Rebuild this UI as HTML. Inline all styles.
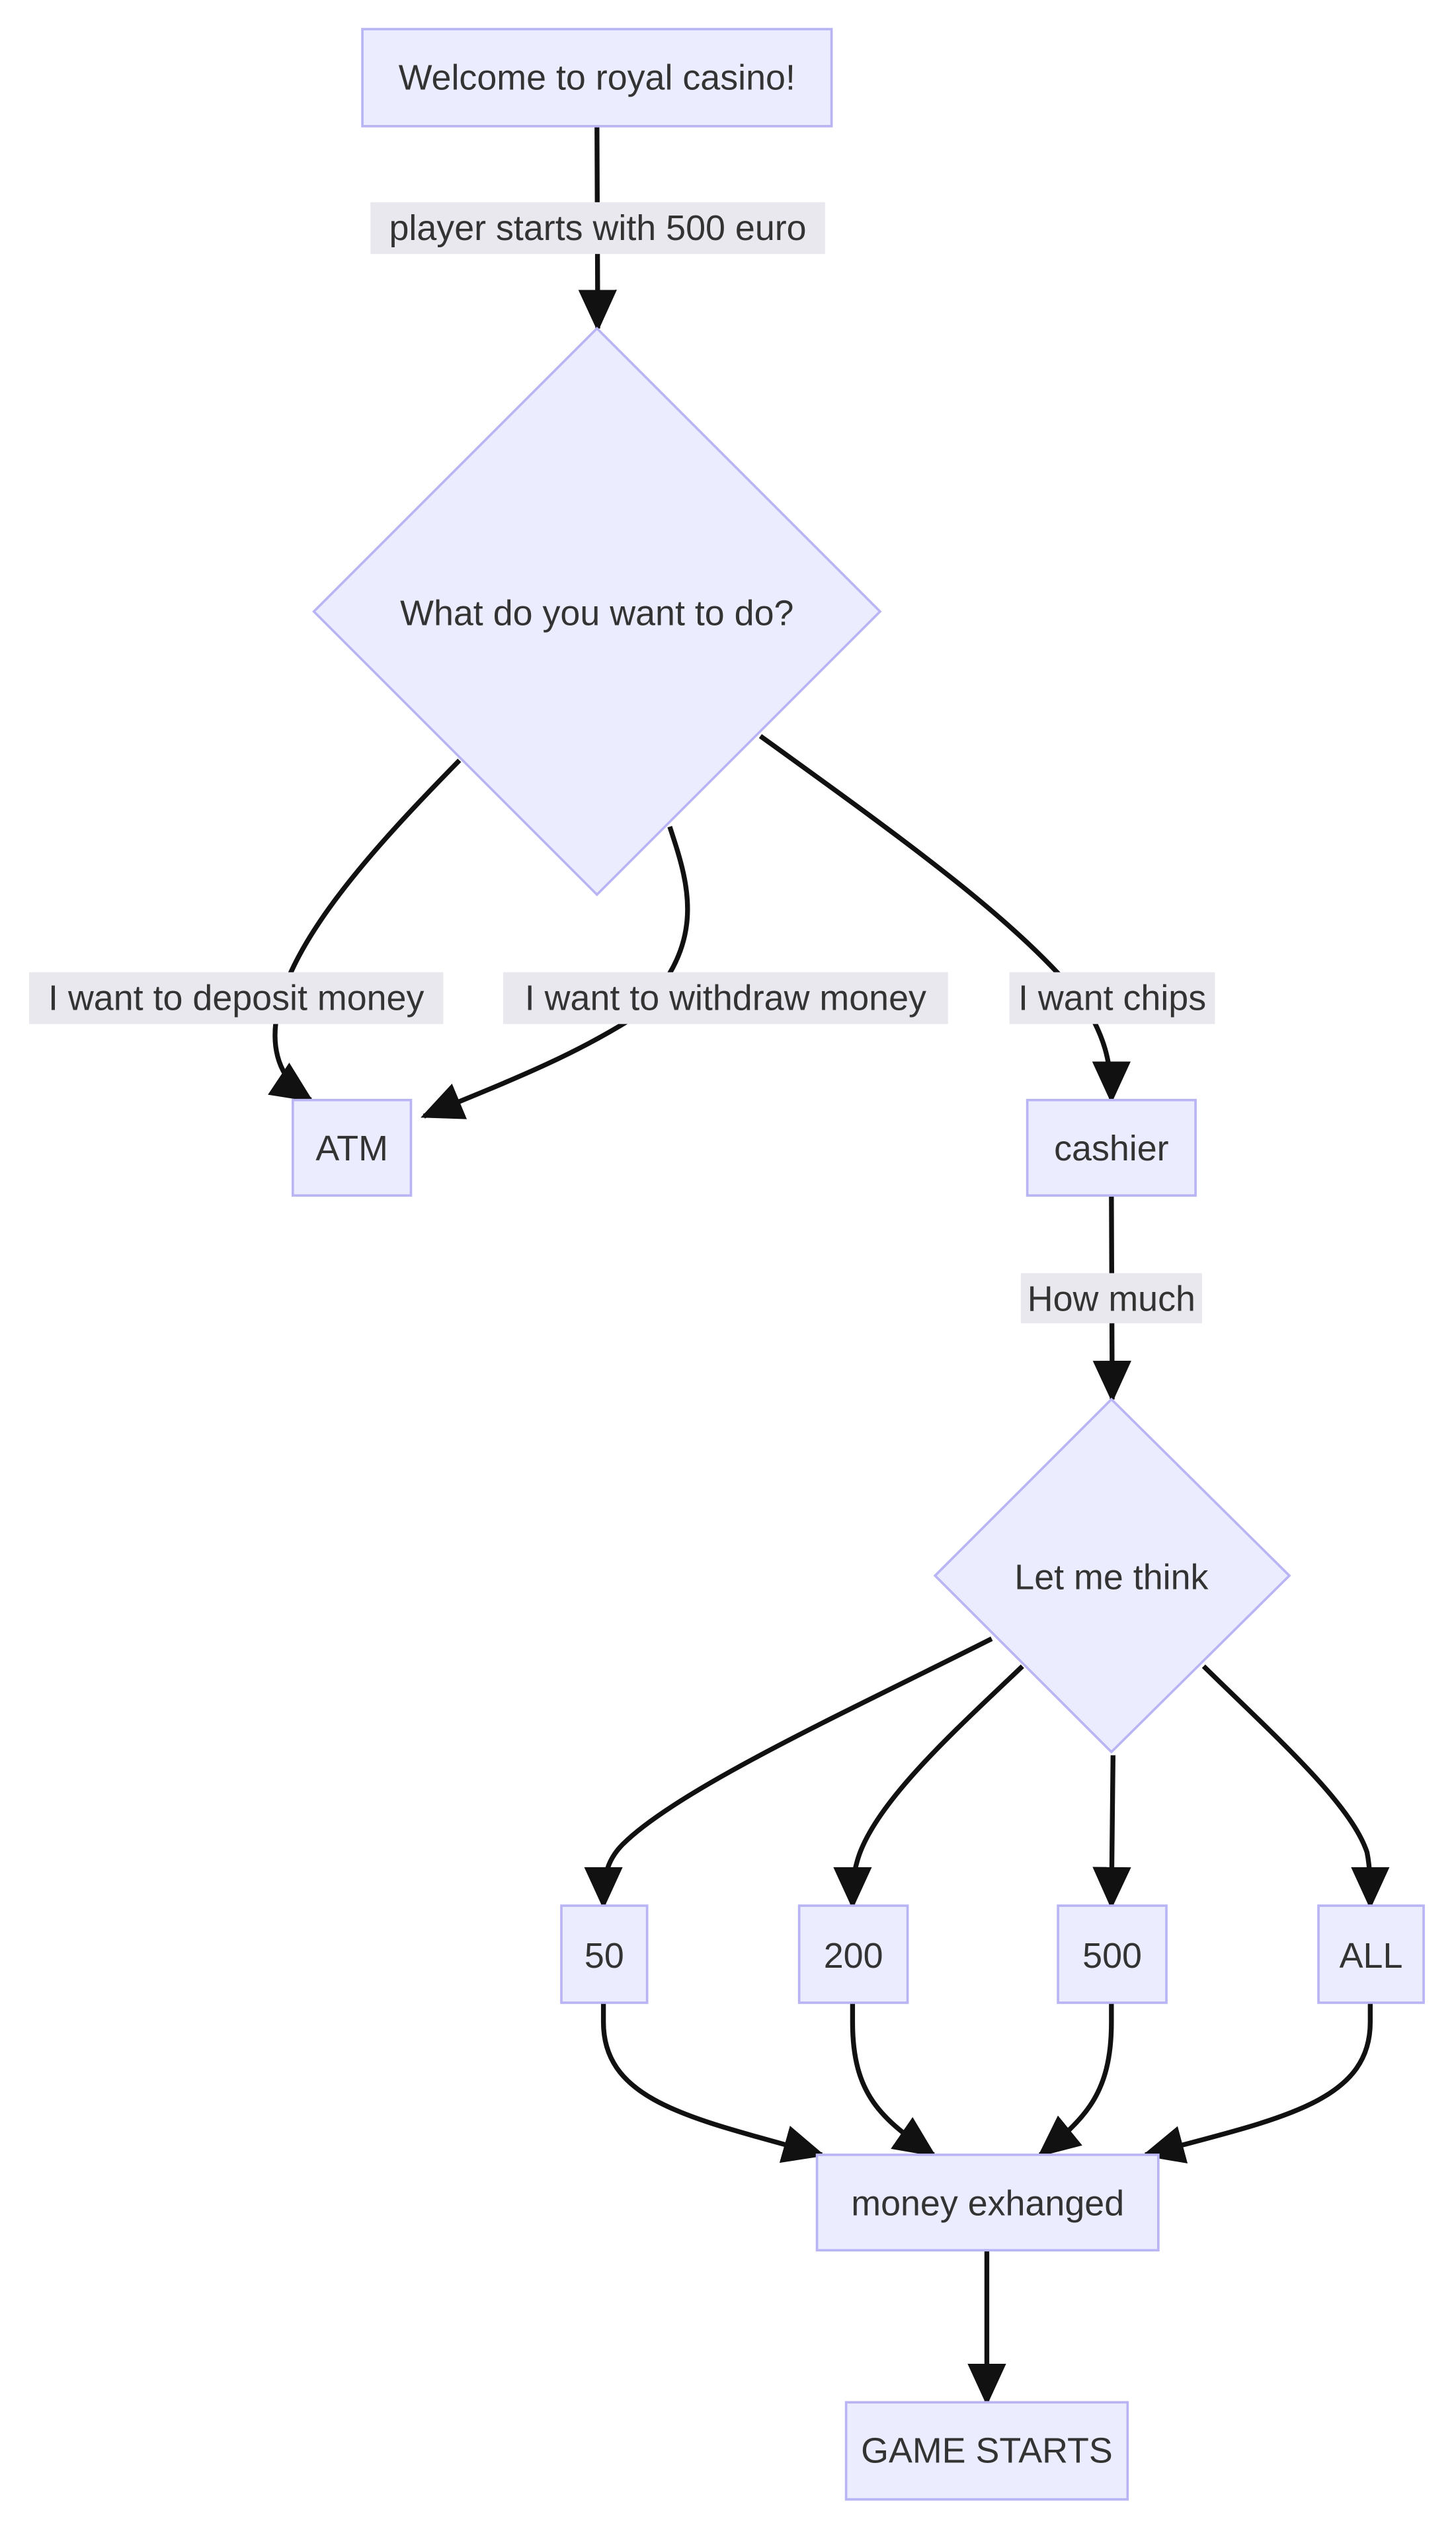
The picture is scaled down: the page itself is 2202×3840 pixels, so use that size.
<!DOCTYPE html>
<html><head><meta charset="utf-8"><style>
html,body{margin:0;padding:0;background:#fff;}
svg{display:block;}
text{font-family:"Liberation Sans","DejaVu Sans",sans-serif;font-size:22px;fill:#333;text-anchor:middle;dominant-baseline:central;}
.n{fill:#ECECFF;stroke:#b9b5f5;stroke-width:1.5;}
.e{fill:none;stroke:#111;stroke-width:3;}
.lb{fill:#e8e8ee;}
</style></head><body>
<svg width="2202" height="3840" viewBox="0 0 900 1569.5" xmlns="http://www.w3.org/2000/svg">
<defs>
<marker id="a" markerUnits="userSpaceOnUse" markerWidth="26" markerHeight="26" viewBox="0 0 24 24" refX="22" refY="12" orient="auto">
<path d="M0,1 L24,12 L0,23 Z" fill="#111"/>
</marker>
</defs>
<path class="e" d="M369,78 L369.5,203" marker-end="url(#a)"/>
<path class="e" d="M284,470 C230,525 170,590 170,640 C170,660 180,672 192,680" marker-end="url(#a)"/>
<path class="e" d="M414,511 C425,545 440,585 390,630 C350,655 310,670 262,690" marker-end="url(#a)"/>
<path class="e" d="M470,455 C560,520 630,570 670,620 C682,640 687,655 687,680" marker-end="url(#a)"/>
<path class="e" d="M687,739 L687.5,865" marker-end="url(#a)"/>
<path class="e" d="M613,1013 C530,1055 420,1105 385,1140 C375,1150 373,1160 373,1178" marker-end="url(#a)"/>
<path class="e" d="M632,1030 C590,1070 540,1115 530,1150 C527,1160 527,1168 527,1178" marker-end="url(#a)"/>
<path class="e" d="M688,1085 L687,1178" marker-end="url(#a)"/>
<path class="e" d="M744,1030 C790,1075 835,1115 845,1145 C847,1155 847,1165 847,1178" marker-end="url(#a)"/>
<path class="e" d="M373,1238 L373,1250 C373,1300 430,1310 508,1332" marker-end="url(#a)"/>
<path class="e" d="M527,1238 L527,1250 C527,1295 545,1310 577,1332" marker-end="url(#a)"/>
<path class="e" d="M687,1238 L687,1250 C687,1295 670,1310 643,1332" marker-end="url(#a)"/>
<path class="e" d="M847,1238 L847,1250 C847,1300 790,1310 708,1332" marker-end="url(#a)"/>
<path class="e" d="M610,1391 L610,1485" marker-end="url(#a)"/>
<rect class="n" x="224" y="18" width="290" height="60"/>
<text x="369" y="48">Welcome to royal casino!</text>
<polygon class="n" points="369,203 544,378 369,553 194,378"/>
<text x="369" y="379">What do you want to do?</text>
<rect class="n" x="181" y="680" width="73" height="59"/>
<text x="217.5" y="710">ATM</text>
<rect class="n" x="635" y="680" width="104" height="59"/>
<text x="687" y="710">cashier</text>
<polygon class="n" points="687,865 797,974 687,1083 578,974"/>
<text x="687" y="975">Let me think</text>
<rect class="n" x="347" y="1178" width="53" height="60"/>
<text x="373.5" y="1209">50</text>
<rect class="n" x="494" y="1178" width="67" height="60"/>
<text x="527.5" y="1209">200</text>
<rect class="n" x="654" y="1178" width="67" height="60"/>
<text x="687.5" y="1209">500</text>
<rect class="n" x="815" y="1178" width="65" height="60"/>
<text x="847.5" y="1209">ALL</text>
<rect class="n" x="505" y="1332" width="211" height="59"/>
<text x="610.5" y="1362">money exhanged</text>
<rect class="n" x="523" y="1485" width="174" height="60"/>
<text x="610" y="1515">GAME STARTS</text>
<rect class="lb" x="229" y="125" width="281" height="32"/>
<text x="369.5" y="141">player starts with 500 euro</text>
<rect class="lb" x="18" y="601" width="256" height="32"/>
<text x="146" y="617">I want to deposit money</text>
<rect class="lb" x="311" y="601" width="275" height="32"/>
<text x="448.5" y="617">I want to withdraw money</text>
<rect class="lb" x="624" y="601" width="127" height="32"/>
<text x="687.5" y="617">I want chips</text>
<rect class="lb" x="631" y="787" width="112" height="31"/>
<text x="687" y="803">How much</text>
</svg>
</body></html>
